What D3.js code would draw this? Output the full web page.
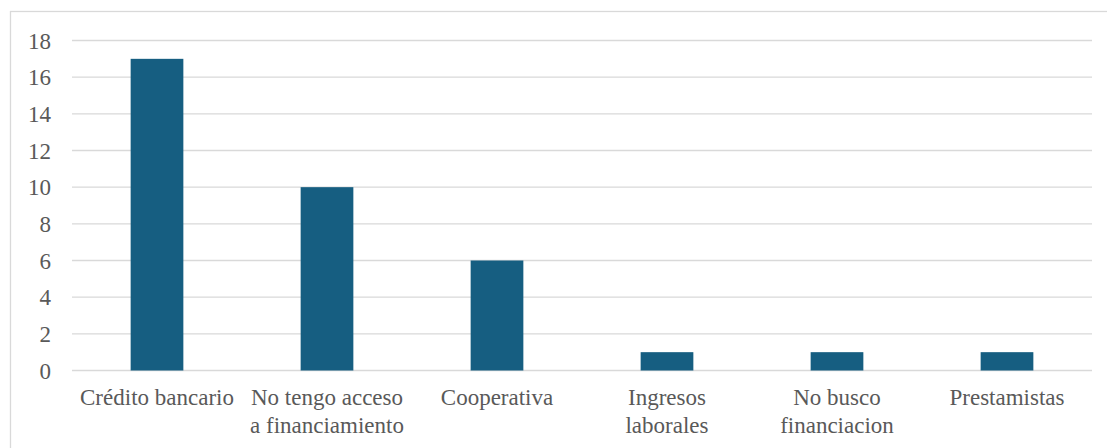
<!DOCTYPE html>
<html><head><meta charset="utf-8">
<script src="https://cdn.jsdelivr.net/npm/d3@7"></script>
</head><body style="margin:0;background:#fff">
<script>
const categories = ["Crédito bancario","No tengo acceso a financiamiento","Cooperativa","Ingresos laborales","No busco financiacion","Prestamistas"];
const values = [17,10,6,1,1,1];
const yTicks = [0,2,4,6,8,10,12,14,16,18];

const W = 1107, H = 448;
const FONT = 'Times New Roman, Liberation Serif, Tinos, serif';
const svg = d3.select("body").append("svg").attr("width", W).attr("height", H).style("display","block")
  .attr("font-family",FONT);
svg.append("rect").attr("x",10.5).attr("y",11.5).attr("width",W).attr("height",H)
  .attr("fill","#fff").attr("stroke","#d9d9d9").attr("stroke-width",1.3);

const x = d3.scaleBand().domain(categories).range([72,1092]).paddingInner(0.69).paddingOuter(0.345);
const y = d3.scaleLinear().domain([0,18]).range([370.5,40.5]);

svg.selectAll("line.grid").data(yTicks).join("line").attr("class","grid")
  .attr("x1",72).attr("x2",1092).attr("y1",d=>y(d)).attr("y2",d=>y(d))
  .attr("stroke","#d9d9d9").attr("stroke-width",1.4);

svg.selectAll("text.ytick").data(yTicks).join("text").attr("class","ytick")
  .attr("x",51).attr("y",d=>y(d)+8)
  .attr("text-anchor","end")
  .style("font-family",FONT).style("font-size","23px").style("fill","#595959").text(d=>d);

svg.selectAll("rect.bar").data(values).join("rect").attr("class","bar")
  .attr("x",(d,i)=>x(categories[i])).attr("width",x.bandwidth())
  .attr("y",d=>y(d)).attr("height",d=>y(0)-y(d)).attr("fill","#165e81");

const labels = svg.selectAll("text.xlab").data(categories).join("text").attr("class","xlab")
  .attr("x",d=>x(d)+x.bandwidth()/2).attr("y",405).attr("text-anchor","middle")
  .style("font-family",FONT).style("font-size","23px").style("fill","#595959");
labels.each(function(d){
  const t = d3.select(this); const words = d.split(" ");
  let line = [], lines = [];
  const tmp = t.append("tspan");
  words.forEach(w=>{
    line.push(w); tmp.text(line.join(" "));
    if (tmp.node().getComputedTextLength() > 160 && line.length>1){ line.pop(); lines.push(line.join(" ")); line=[w]; }
  });
  lines.push(line.join(" ")); tmp.remove();
  lines.forEach((l,i)=>t.append("tspan").attr("x",x(d)+x.bandwidth()/2).attr("dy",i?28:0).text(l));
});
</script></body></html>
